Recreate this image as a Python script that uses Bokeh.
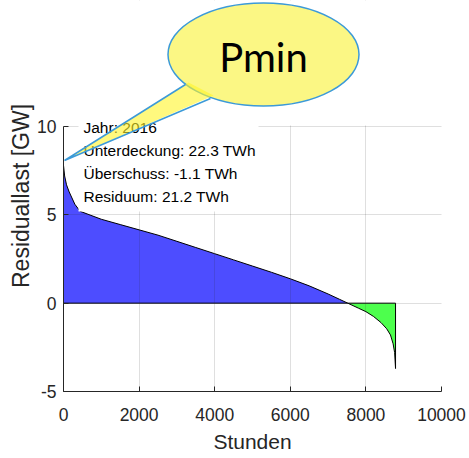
from bokeh.plotting import figure
from bokeh.models import Range1d, BoxAnnotation, Label, FixedTicker
from bokeh.core.properties import value
from bokeh.embed import file_html
from bokeh.resources import INLINE

# ---- data (sorted residual load, 2016) ----
hours = [0, 30, 80, 150, 300, 440, 1000, 1500, 2000, 2500, 3000, 3500, 4000,
         4500, 5000, 5500, 6000, 6500, 7000, 7300, 7520, 7800, 8000, 8200,
         8400, 8550, 8650, 8720, 8760, 8784]
gw = [7.8, 7.2, 6.7, 6.3, 5.6, 5.2, 4.75, 4.45, 4.15, 3.85, 3.5, 3.15, 2.8,
      2.45, 2.1, 1.75, 1.38, 0.98, 0.52, 0.22, 0.0, -0.28, -0.48, -0.75,
      -1.1, -1.45, -1.8, -2.3, -2.8, -3.7]
x_ticks = [0, 2000, 4000, 6000, 8000, 10000]
y_ticks = [-5, 0, 5, 10]
info_lines = ["Jahr: 2016", "Unterdeckung: 22.3 TWh", "Überschuss: -1.1 TWh",
              "Residuum: 21.2 TWh"]
callout_text = "Pmin"
x_label = "Stunden"
y_label = "Residuallast [GW]"

# ---- layout ----
W, H = 469, 458
L, R, T, B = 63, 28, 0, 67
FW, FH = W - L - R, H - T - B
X0, X1 = 0, 10000
YMIN, YMAX = -5, 10
Y10_PX = 126  # pixel row of y=10
yscale = (FH - Y10_PX) / (YMAX - YMIN)  # px per GW
Y_END = YMAX + (Y10_PX - T) / yscale
xscale = FW / (X1 - X0)

def dx(px):
    return X0 + (px - L) / xscale

def dy(py):
    return YMAX - (py - Y10_PX) / yscale

FONT = "Liberation Sans"
DARK = "#262626"

p = figure(width=W, height=H, x_range=Range1d(X0, X1), y_range=Range1d(YMIN, Y_END),
           min_border_left=L, min_border_right=R, min_border_top=T, min_border_bottom=B,
           output_backend="svg", toolbar_location=None)
p.outline_line_color = None
p.background_fill_color = "white"
p.border_fill_color = "white"

pos = [max(v, 0) for v in gw]
neg = [min(v, 0) for v in gw]
p.varea(x=hours, y1=[0] * len(hours), y2=pos, fill_color="#4d4dff")
p.varea(x=hours, y1=neg, y2=[0] * len(hours), fill_color="#4dff4d")
p.line(hours, gw, line_color="black", line_width=1)
p.line([hours[0], hours[-1]], [0, 0], line_color="black", line_width=1)
p.line([hours[-1], hours[-1]], [gw[-1], 0], line_color="black", line_width=1)

# axes
for ax in (p.xaxis[0], p.yaxis[0]):
    ax.axis_line_color = DARK
    ax.major_tick_line_color = DARK
    ax.minor_tick_line_color = None
    ax.major_tick_in = 5
    ax.major_tick_out = 0
    ax.major_label_text_color = DARK
    ax.major_label_text_font = FONT
    ax.major_label_text_font_size = "17.5px"
    ax.axis_label_text_color = DARK
    ax.axis_label_text_font = FONT
    ax.axis_label_text_font_style = "normal"
p.xaxis.ticker = FixedTicker(ticks=x_ticks)
p.yaxis.ticker = FixedTicker(ticks=y_ticks)
p.yaxis.major_label_overrides = {t: str(t) for t in y_ticks}
p.xaxis.bounds = (X0, X1)
p.yaxis.bounds = (YMIN, YMAX)
p.xaxis.axis_label = x_label
p.yaxis.axis_label = y_label
p.xaxis.axis_label_text_font_size = "21px"
p.yaxis.axis_label_text_font_size = "23px"
p.xaxis.major_label_standoff = 16
p.yaxis.major_label_standoff = 7
p.xaxis.axis_label_standoff = 6
p.yaxis.axis_label_standoff = 0

for g in (p.xgrid[0], p.ygrid[0]):
    g.grid_line_color = DARK
    g.grid_line_alpha = 0.15
    g.level = "guide"

# white cover above the axes area and the info box
p.add_layout(BoxAnnotation(left=X0, right=X1, bottom=YMAX + 1.0 / yscale, top=Y_END,
                           fill_color="white", fill_alpha=1, line_color=None))
p.add_layout(BoxAnnotation(left=dx(78), right=dx(258), bottom=dy(211), top=dy(110),
                           fill_color="white", fill_alpha=1, line_color=None))
for i, t in enumerate(info_lines):
    p.add_layout(Label(x=dx(83), y=dy(127 + i * 23), text=t, text_font=FONT,
                       text_font_size="15.5px", text_baseline="middle",
                       text_align="left", text_color="black"))

# callout bubble
p.ellipse(x=[dx(263)], y=[dy(54)], width=[191], height=[103],
          width_units="screen", height_units="screen",
          fill_color="#fbf784", line_color="#3c9ad8", line_width=1.5, level="overlay")
tail_x = [dx(188), dx(64), dx(213)]
tail_y = [dy(82), dy(160), dy(95)]
p.patch(tail_x, tail_y, fill_color="#fff528", fill_alpha=0.6, line_color=None,
        level="overlay")
p.line([dx(185), dx(64), dx(210)], [dy(84), dy(160), dy(98)],
       line_color="#3c9ad8", line_width=1.5, level="overlay")
p.text(x=[dx(263)], y=[dy(56)], text=[callout_text], text_font=value("Lato"),
       text_font_size="40px", text_align="center", text_baseline="middle",
       text_color="black", level="overlay")

open("out.html", "w").write(file_html(p, INLINE))
